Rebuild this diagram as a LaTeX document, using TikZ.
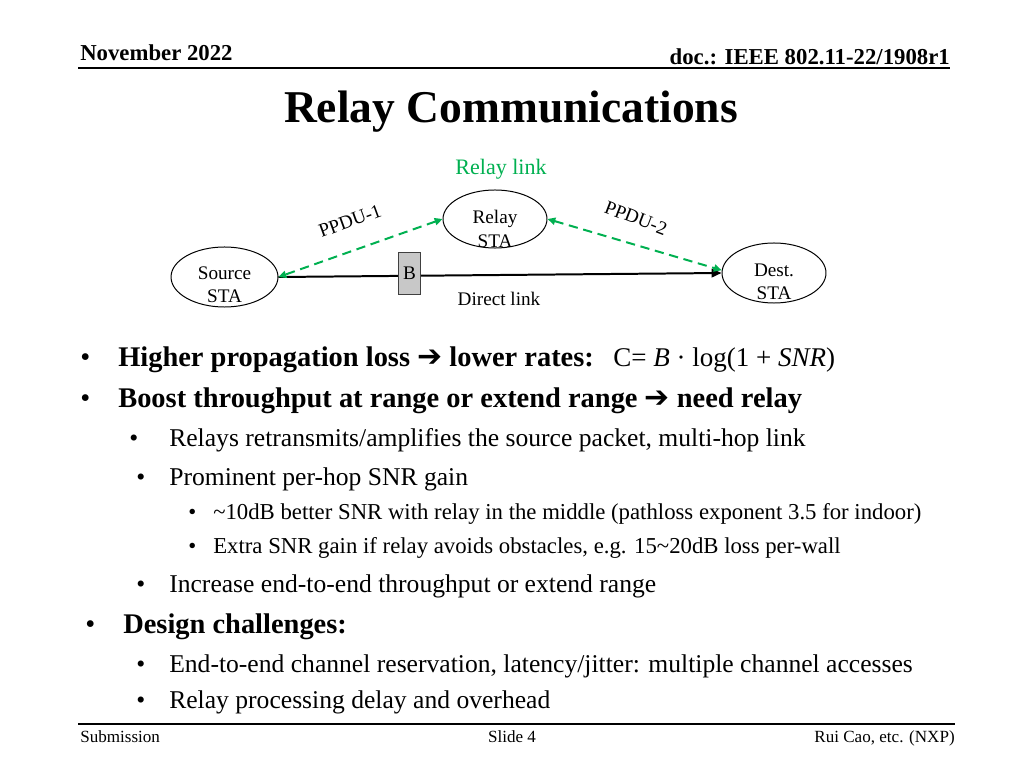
\documentclass[tikz,border=0pt]{standalone}
\usepackage{fontspec}
\setmainfont{Liberation Serif}
\newfontfamily\djv{DejaVu Sans}
\usetikzlibrary{arrows.meta,shapes.geometric}
\definecolor{rgreen}{RGB}{0,176,80}
\definecolor{bgray}{RGB}{200,200,200}
\newcommand{\wingarrow}{{\djv\mdseries\fontsize{21}{24}\selectfont ➔}}
\begin{document}
\begin{tikzpicture}[x=0.703125pt,y=-0.703125pt,
  tx/.style={inner sep=0pt, anchor=base west},
  hdr/.style={inner sep=0pt, font=\fontsize{16}{19}\selectfont\bfseries},
  ftr/.style={inner sep=0pt, font=\fontsize{12}{14}\selectfont},
  lone/.style={tx, font=\fontsize{20}{24}\selectfont\bfseries},
  bulone/.style={tx, font=\fontsize{20}{24}\selectfont},
  ltwo/.style={tx, font=\fontsize{18}{22}\selectfont},
  lthree/.style={tx, font=\fontsize{16}{19}\selectfont},
  sta/.style={ellipse, draw, line width=0.7pt, inner sep=0pt},
  statext/.style={inner sep=0pt, align=center, font=\fontsize{13.5}{16.5}\selectfont},
  dlab/.style={inner sep=0pt, font=\fontsize{13.5}{16}\selectfont},
  greenarrow/.style={rgreen, line width=1.4pt, dash pattern=on 6.5pt off 4pt, {Triangle[length=5.5pt,width=5pt]}-{Triangle[length=5.5pt,width=5pt]}},
  blackarrow/.style={black, line width=1.4pt, -{Triangle[length=7pt,width=6pt]}},
  bbox/.style={draw=black!75, fill=bgray, line width=0.7pt, minimum width=14.8pt, minimum height=30.2pt, inner sep=0pt, font=\fontsize{13.5}{16}\selectfont}
]
\useasboundingbox (0,0) rectangle (1024,768);

% header
\node[hdr, anchor=base west] (hl) at (80,61) {November 2022};
\node[hdr, anchor=base east] (hr) at (950,65) {doc.: IEEE 802.11-22/1908r1};
\coordinate (hla) at (78,68);
\coordinate (hlb) at (950,68);
\draw[line width=1.4pt] (hla) -- (hlb);

% title
\node[inner sep=0pt, anchor=base, font=\fontsize{32}{38}\selectfont\bfseries] (title) at (511,123) {Relay Communications};

% diagram
\node[inner sep=0pt, anchor=base, text=rgreen, font=\fontsize{15.5}{18}\selectfont] (rl) at (501,175) {Relay link};
\node[sta, minimum width=73.1pt, minimum height=40.8pt] (rel) at (495,219) {};
\node[statext] (relt) at (495,229) {Relay\\STA};
\node[sta, minimum width=75.2pt, minimum height=42.2pt] (src) at (224.5,277) {};
\node[statext] (srct) at (224.5,285) {Source\\STA};
\node[sta, minimum width=73.1pt, minimum height=42.2pt] (dst) at (774,273) {};
\node[statext] (dstt) at (774,282) {Dest.\\STA};

\draw[blackarrow] (src.east) -- (dst.west);
\node[bbox] (b) at (409.5,273.5) {B};
\draw[greenarrow] (rel.west) -- (src.east);
\draw[greenarrow] (rel.east) -- (dst.177);

\node[dlab, rotate=20] (p1) at (350,221) {PPDU-1};
\node[dlab, rotate=-21] (p2) at (636,218) {PPDU-2};
\node[dlab, anchor=base] (dl) at (499,306) {Direct link};

% bullets
\node[bulone] (b1) at (80,366) {\textbullet};
\node[lone] (t1) at (118,366) {Higher propagation loss \wingarrow{} lower rates:};
\node[tx, font=\fontsize{19}{23}\selectfont] (f1) at (613,366) {C= \textit{B} · log(1 + \textit{SNR})};
\node[bulone] (b2) at (80,407) {\textbullet};
\node[lone] (t2) at (118,407) {Boost throughput at range or extend range \wingarrow{} need relay};

\node[ltwo] (b3) at (129,446) {\textbullet};
\node[ltwo] (t3) at (169,446) {Relays retransmits/amplifies the source packet, multi-hop link};
\node[ltwo] (b4) at (136,485) {\textbullet};
\node[ltwo] (t4) at (169,485) {Prominent per-hop SNR gain};

\node[lthree] (b5) at (188,519) {\textbullet};
\node[lthree] (t5) at (213,519) {\textasciitilde 10dB better SNR with relay in the middle (pathloss exponent 3.5 for indoor)};
\node[lthree] (b6) at (188,553) {\textbullet};
\node[lthree] (t6) at (213,553) {Extra SNR gain if relay avoids obstacles, e.g. 15\textasciitilde 20dB loss per-wall};

\node[ltwo] (b7) at (136,592) {\textbullet};
\node[ltwo] (t7) at (169,592) {Increase end-to-end throughput or extend range};

\node[bulone] (b8) at (85,633) {\textbullet};
\node[lone] (t8) at (123,633) {Design challenges:};

\node[ltwo] (b9) at (136,672) {\textbullet};
\node[ltwo] (t9) at (169,672) {End-to-end channel reservation, latency/jitter: multiple channel accesses};
\node[ltwo] (b10) at (136,708) {\textbullet};
\node[ltwo] (t10) at (169,708) {Relay processing delay and overhead};

% footer
\coordinate (fla) at (78,724);
\coordinate (flb) at (955,724);
\draw[line width=1.4pt] (fla) -- (flb);
\node[ftr, anchor=base west] (fl) at (80,742) {Submission};
\node[ftr, anchor=base] (fc) at (512,742) {Slide 4};
\node[ftr, anchor=base east] (fr) at (955,742) {Rui Cao, etc. (NXP)};
\end{tikzpicture}
\end{document}
